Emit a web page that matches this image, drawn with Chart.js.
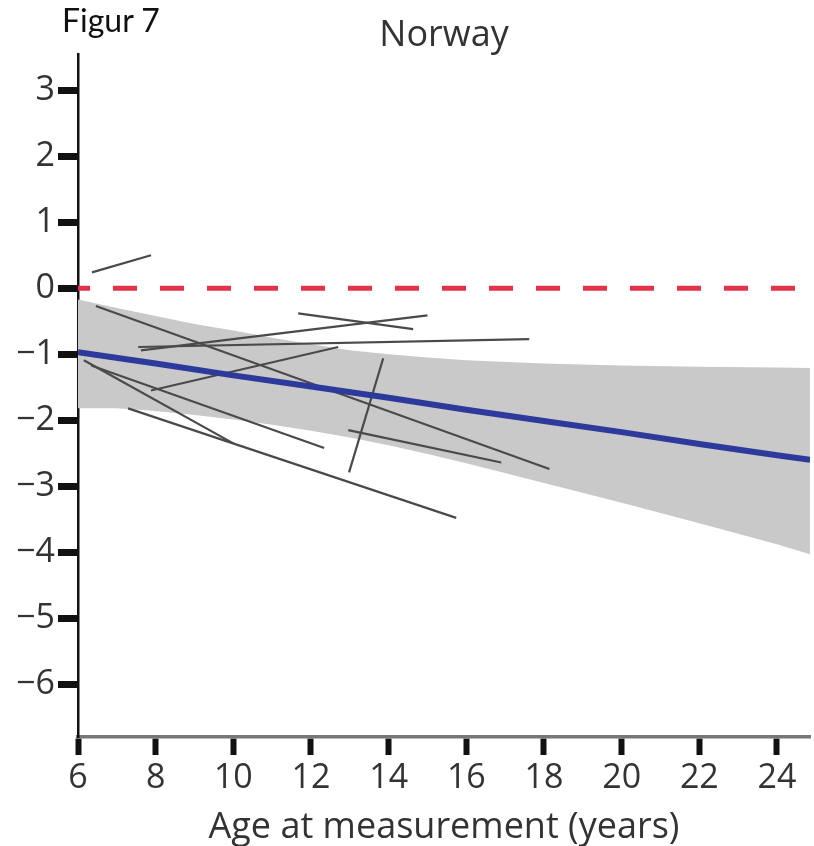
<!DOCTYPE html>
<html>
<head>
<meta charset="utf-8">
<script src="https://cdn.jsdelivr.net/npm/chart.js@4.4.0/dist/chart.umd.min.js"></script>
<style>
  body { margin: 0; background: #fff; }
  #wrap { position: relative; width: 814px; height: 846px; }
  #fig { position: absolute; left: 62px; top: 0px; font: 32px Lato, "Open Sans", sans-serif; color: #111; }
</style>
</head>
<body>
<div id="wrap">
  <canvas id="chart1" width="814" height="846"></canvas>
  <div id="fig">Figur 7</div>
</div>
<script>
'use strict';

// axis ticks
const ageTicks = [6, 8, 10, 12, 14, 16, 18, 20, 22, 24];
const zTicks = [3, 2, 1, 0, -1, -2, -3, -4, -5, -6];

// pooled trend (blue) and its confidence band (grey)
const fitAge = [6, 8, 10, 12, 14, 16, 18, 20, 22, 24, 24.85];
const fitZ = [-0.97, -1.14, -1.32, -1.49, -1.66, -1.84, -2.01, -2.18, -2.36, -2.53, -2.60];

const bandAge = [6, 7, 8, 9, 10, 11, 12, 13, 14, 15, 16, 18, 20, 22, 24, 24.85];
const bandUpper = [-0.17, -0.30, -0.42, -0.54, -0.64, -0.75, -0.85, -0.94, -1.00, -1.05, -1.09, -1.14, -1.17, -1.19, -1.20, -1.21];
const bandLower = [-1.82, -1.82, -1.86, -1.92, -1.99, -2.07, -2.16, -2.26, -2.38, -2.51, -2.65, -2.95, -3.25, -3.56, -3.88, -4.03];

// reference line at z = 0
const refAge = [6, 24.85];
const refZ = [0, 0];

// single study trajectories (start -> end)
const studyStartAge = [6.36, 6.46, 12.96, 13.86, 7.29, 6.15, 6.34, 7.55, 7.88, 7.62, 11.67];
const studyStartZ   = [0.24, -0.27, -2.15, -1.06, -1.82, -1.09, -1.17, -0.89, -1.55, -0.94, -0.38];
const studyEndAge   = [7.88, 18.14, 16.90, 12.98, 15.74, 10.00, 12.34, 17.62, 12.70, 15.00, 14.63];
const studyEndZ     = [0.50, -2.74, -2.64, -2.79, -3.48, -2.35, -2.42, -0.77, -0.89, -0.41, -0.62];

function pts(xs, ys) {
    return xs.map(function (x, i) { return { x: x, y: ys[i] }; });
}

const datasets = [
    { data: pts(fitAge, fitZ), borderColor: '#2d3a9c', borderWidth: 6, pointRadius: 0, fill: false },
    { data: pts(refAge, refZ), borderColor: '#e3334b', borderWidth: 5, borderDash: [24, 23], borderDashOffset: 12, pointRadius: 0, fill: false }
];

for (let i = 0; i < studyStartAge.length; i++) {
    datasets.push({
        data: [{ x: studyStartAge[i], y: studyStartZ[i] }, { x: studyEndAge[i], y: studyEndZ[i] }],
        borderColor: '#4a4a4a',
        borderWidth: 2.2,
        pointRadius: 0,
        fill: false
    });
}

// band: upper fills down to lower (next dataset)
datasets.push({ data: pts(bandAge, bandUpper), borderWidth: 0, borderColor: 'rgba(0,0,0,0)', backgroundColor: '#c9c9c9', pointRadius: 0, fill: '+1' });
datasets.push({ data: pts(bandAge, bandLower), borderWidth: 0, borderColor: 'rgba(0,0,0,0)', pointRadius: 0, fill: false });

const tickFont = { family: '"Open Sans", sans-serif', size: 34 };

new Chart(document.getElementById('chart1'), {
    type: 'line',
    data: { datasets: datasets },
    options: {
        responsive: false,
        animation: false,
        layout: { padding: { left: 0, right: 4, top: 0, bottom: 0 } },
        plugins: {
            legend: { display: false },
            tooltip: { enabled: false },
            filler: { drawTime: 'beforeDatasetsDraw' },
            title: {
                display: true,
                text: 'Norway',
                fullSize: false,
                color: '#333',
                font: { family: '"Open Sans", sans-serif', size: 36, weight: 'normal', lineHeight: 1.0 },
                padding: { top: 18, bottom: 0 }
            }
        },
        scales: {
            x: {
                type: 'linear',
                min: 6,
                max: 24.85,
                afterBuildTicks: function (s) { s.ticks = ageTicks.map(function (v) { return { value: v }; }); },
                afterFit: function (s) { s.height = 109; },
                border: { display: true, color: '#777', width: 3.5 },
                grid: { drawOnChartArea: false, drawTicks: true, tickLength: 18, tickWidth: 6, tickColor: '#111' },
                ticks: { color: '#333', font: tickFont, padding: 3, maxRotation: 0 },
                title: {
                    display: true,
                    text: 'Age at measurement (years)',
                    color: '#333',
                    font: { family: '"Open Sans", sans-serif', size: 36, lineHeight: 1.0 },
                    padding: { top: 0, bottom: 0 }
                }
            },
            y: {
                type: 'linear',
                min: -6.8,
                max: 3.55,
                afterBuildTicks: function (s) { s.ticks = zTicks.map(function (v) { return { value: v }; }); },
                afterFit: function (s) { s.width = 78; },
                border: { display: true, color: '#111', width: 2.5 },
                grid: { drawOnChartArea: false, drawTicks: true, tickLength: 20, tickWidth: 7, tickColor: '#111' },
                ticks: {
                    color: '#333',
                    font: tickFont,
                    padding: 3,
                    callback: function (v) { return v < 0 ? '\u2212' + Math.abs(v) : String(v); }
                }
            }
        }
    }
});
</script>
</body>
</html>
